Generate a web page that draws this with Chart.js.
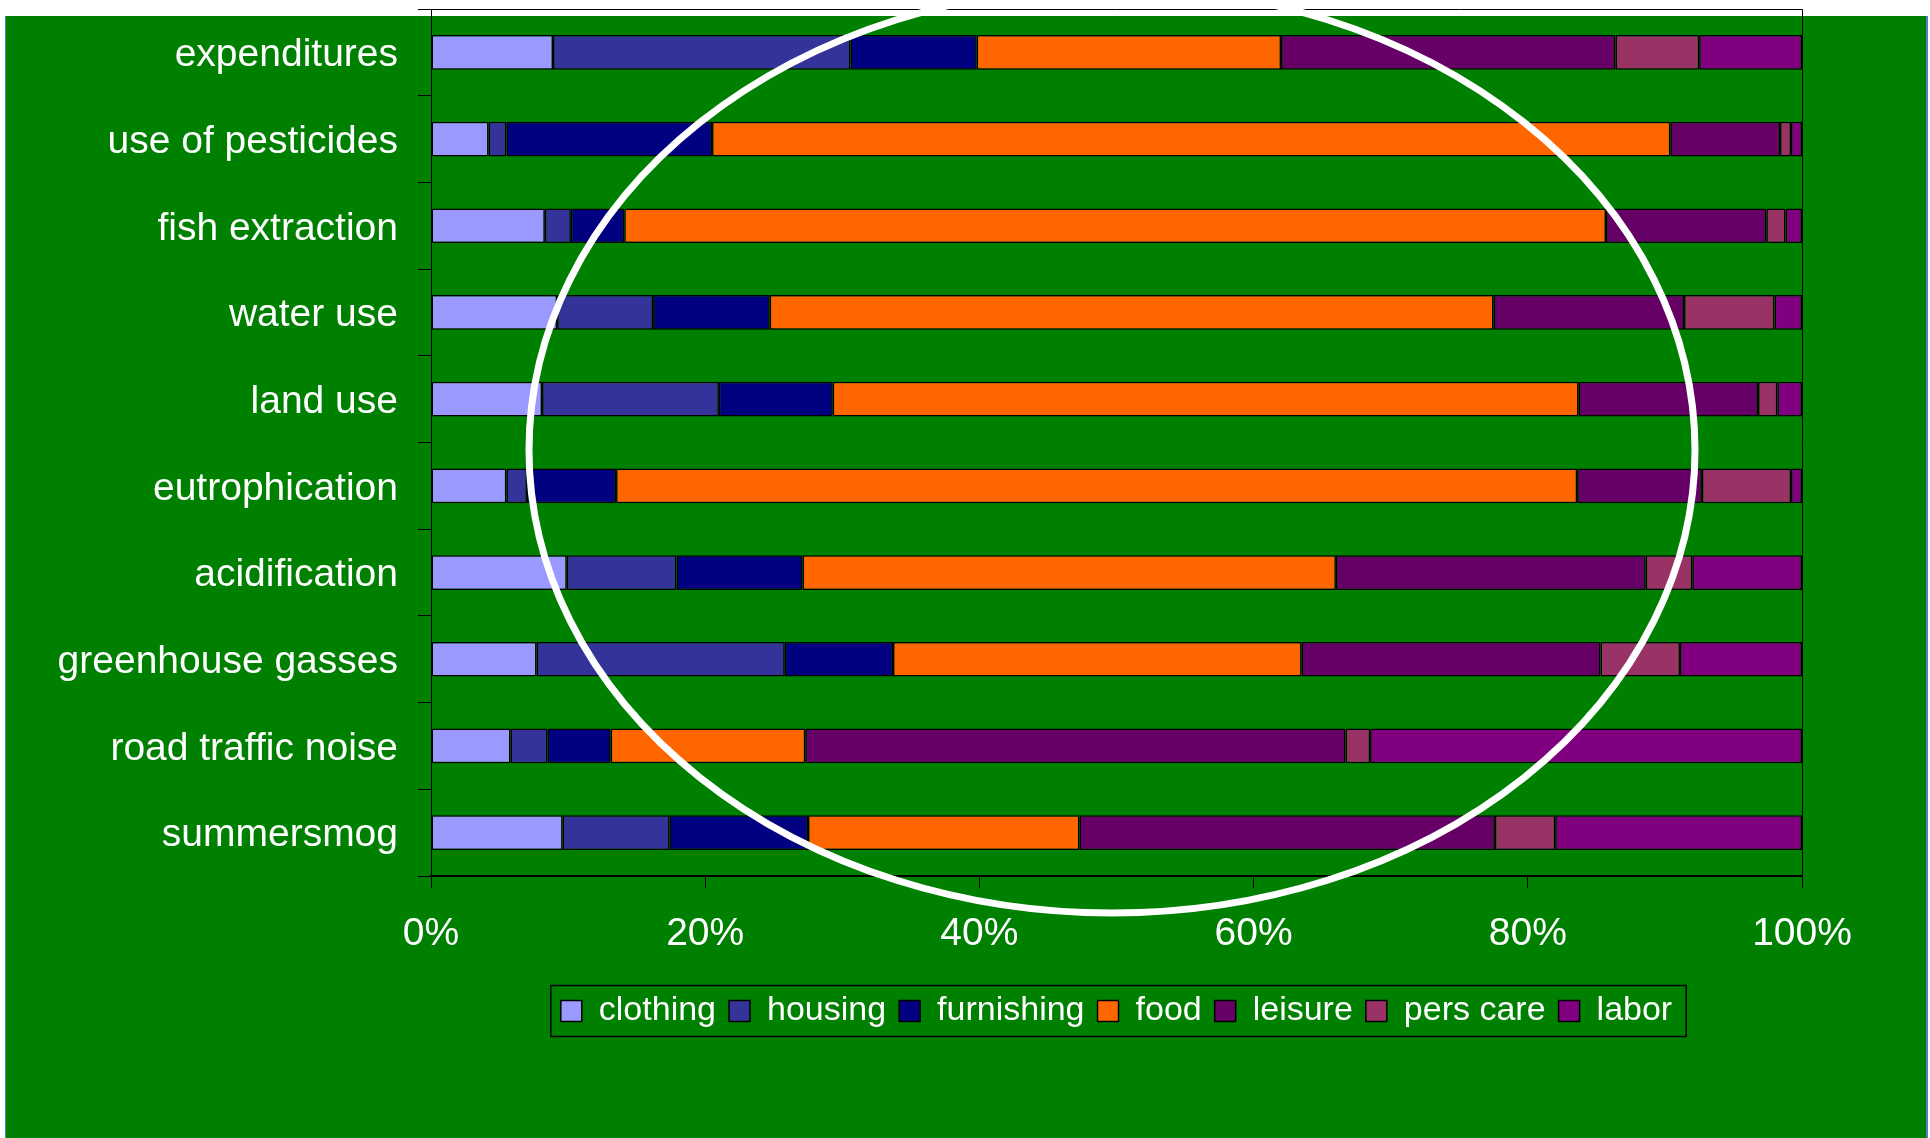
<!DOCTYPE html>
<html>
<head>
<meta charset="utf-8">
<script src="https://cdn.jsdelivr.net/npm/chart.js@4.4.0/dist/chart.umd.min.js"></script>
<style>
  html, body { margin: 0; padding: 0; background: #fff; }
  #wrap { width: 1930px; height: 1138px; }
</style>
</head>
<body>
<div id="wrap"><canvas id="chart" width="1930" height="1138"></canvas></div>
<script>
// categories, top to bottom
const categories = ['expenditures', 'use of pesticides', 'fish extraction', 'water use', 'land use',
  'eutrophication', 'acidification', 'greenhouse gasses', 'road traffic noise', 'summersmog'];

// share per consumption domain (%)
const clothing   = [8.9, 4.2, 8.3, 9.2, 8.1, 5.5, 9.9, 7.7, 5.8, 9.6];
const housing    = [21.7, 1.3, 1.9, 7.0, 12.9, 1.5, 8.0, 18.1, 2.7, 7.8];
const furnishing = [9.2, 15.0, 3.9, 8.5, 8.3, 6.5, 9.2, 7.9, 4.6, 10.1];
const food       = [22.2, 69.9, 71.6, 52.8, 54.4, 70.1, 38.9, 29.8, 14.2, 19.8];
const leisure    = [24.4, 8.0, 11.7, 13.9, 13.1, 9.1, 22.6, 21.8, 39.4, 30.3];
const persCare   = [6.1, 0.8, 1.4, 6.6, 1.4, 6.5, 3.4, 5.8, 1.8, 4.4];
const labor      = [7.5, 0.8, 1.2, 2.0, 1.8, 0.8, 8.0, 8.9, 31.5, 18.0];

const xTicks = [0, 20, 40, 60, 80, 100];

const FONT = "'Liberation Sans', Arial, sans-serif";

function ds(label, data, color) {
  return {
    label: label,
    data: data,
    backgroundColor: color,
    borderColor: '#000',
    borderWidth: 1.5,
    borderSkipped: false,
    barPercentage: 0.4,
    categoryPercentage: 1.0
  };
}

const backdrop = {
  id: 'backdrop',
  beforeDraw(chart) {
    const ctx = chart.ctx;
    ctx.save();
    ctx.fillStyle = '#fff';
    ctx.fillRect(0, 0, chart.width, chart.height);
    ctx.fillStyle = '#008000';
    ctx.fillRect(6, 16, 1920, chart.height - 16);
    ctx.fillStyle = '#4F81BD';
    ctx.fillRect(5, 16, 1, chart.height - 16);
    ctx.fillRect(1926, 16, 2, chart.height - 16);
    ctx.restore();
  }
};

const extras = {
  id: 'extras',
  afterDraw(chart) {
    const ctx = chart.ctx;
    const a = chart.chartArea;
    ctx.save();
    // plot area frame
    ctx.strokeStyle = '#000';
    ctx.lineWidth = 1;
    ctx.beginPath();
    ctx.moveTo(a.left, a.top + 0.5);
    ctx.lineTo(a.right + 0.5, a.top + 0.5);
    ctx.lineTo(a.right + 0.5, a.bottom);
    ctx.stroke();
    // legend frame
    const hb = chart.legend.legendHitBoxes;
    if (hb && hb.length) {
      const first = hb[0], last = hb[hb.length - 1];
      const cy = first.top + first.height / 2;
      ctx.strokeStyle = '#000';
      ctx.lineWidth = 1.5;
      ctx.strokeRect(first.left - 10, cy - 25.5, last.left + last.width + 14 - (first.left - 10), 51);
    }
    // white ellipse
    ctx.strokeStyle = '#fff';
    ctx.lineWidth = 7;
    ctx.beginPath();
    ctx.ellipse(1112, 450, 583, 463, 0, 0, Math.PI * 2);
    ctx.stroke();
    ctx.restore();
  }
};

new Chart(document.getElementById('chart'), {
  type: 'bar',
  data: {
    labels: categories,
    datasets: [
      ds('clothing', clothing, '#9999FF'),
      ds('housing', housing, '#333399'),
      ds('furnishing', furnishing, '#000080'),
      ds('food', food, '#FF6600'),
      ds('leisure', leisure, '#660066'),
      ds('pers care', persCare, '#993366'),
      ds('labor', labor, '#800080')
    ]
  },
  options: {
    indexAxis: 'y',
    responsive: false,
    animation: false,
    devicePixelRatio: 1,
    layout: { padding: { left: 0, right: 128, top: 9, bottom: 100 } },
    scales: {
      x: {
        stacked: true,
        min: 0,
        max: 100,
        afterBuildTicks(scale) {
          scale.ticks = xTicks.map(v => ({ value: v }));
        },
        afterFit(scale) { scale.height = 105; },
        ticks: {
          color: '#fff',
          font: { family: FONT, size: 39 },
          padding: 23,
          maxRotation: 0,
          callback: v => v + '%'
        },
        grid: { drawOnChartArea: false, color: '#000', tickColor: '#000', tickLength: 12 },
        border: { color: '#000', width: 2 }
      },
      y: {
        stacked: true,
        afterFit(scale) {
          scale.width = 431;
          scale.paddingTop = 0;
          scale.paddingBottom = 0;
        },
        ticks: {
          color: '#fff',
          font: { family: FONT, size: 39 },
          padding: 20,
          labelOffset: 3
        },
        grid: { drawOnChartArea: false, offset: true, color: '#000', tickColor: '#000', tickLength: 13 },
        border: { color: '#000', width: 1 }
      }
    },
    plugins: {
      legend: {
        position: 'bottom',
        fullSize: false,
        labels: {
          color: '#fff',
          font: { family: FONT, size: 34 },
          boxWidth: 21,
          boxHeight: 21,
          padding: 13
        }
      },
      tooltip: { enabled: false }
    }
  },
  plugins: [backdrop, extras]
});
</script>
</body>
</html>
